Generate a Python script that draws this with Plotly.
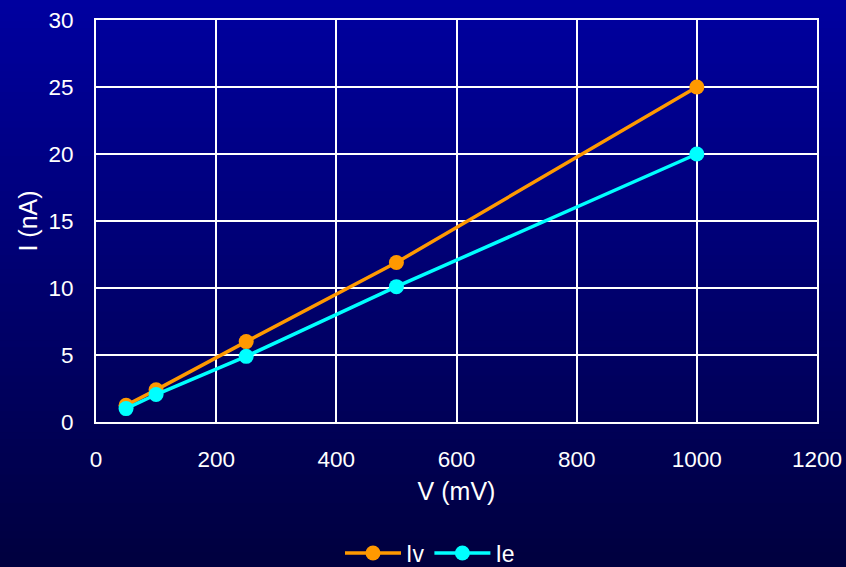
import plotly.graph_objects as go

voltage_mv = [50, 100, 250, 500, 1000]
iv_na = [1.25, 2.4, 6.0, 11.9, 25.0]
ie_na = [1.0, 2.05, 4.9, 10.1, 20.0]
series_names = ["Iv", "Ie"]
x_title = "V (mV)"
y_title = "I (nA)"

fig = go.Figure()
fig.add_trace(go.Scatter(x=voltage_mv, y=iv_na, name=series_names[0], mode="lines+markers",
                         line=dict(color="#FF9900", width=3.5),
                         marker=dict(color="#FF9900", size=15)))
fig.add_trace(go.Scatter(x=voltage_mv, y=ie_na, name=series_names[1], mode="lines+markers",
                         line=dict(color="#00FFFF", width=3.5),
                         marker=dict(color="#00FFFF", size=15)))

# vertical gradient background (top blue -> bottom navy)
W, H = 846, 567
ml, mr, mt, mb = 96, 29, 20, 145
ph = H - mt - mb
n = 80
top = (0, 0, 160)
bot = (0, 0, 62)
shapes = []
for i in range(n):
    t0 = i / n
    t1 = (i + 1) / n
    tc = (i + 0.5) / n
    c = tuple(round(top[k] + (bot[k] - top[k]) * tc) for k in range(3))
    py0 = t0 * H
    py1 = t1 * H + 1
    y0 = (H - mb - py0) / ph
    y1 = (H - mb - py1) / ph
    shapes.append(dict(type="rect", xref="paper", yref="paper",
                       x0=-ml / (W - ml - mr) - 0.01, x1=1 + mr / (W - ml - mr) + 0.01,
                       y0=y1, y1=y0, fillcolor="rgb(%d,%d,%d)" % c,
                       line=dict(width=0), layer="below"))

font = dict(family="Liberation Sans, Arial, sans-serif", color="white", size=22)
fig.update_layout(
    width=W, height=H,
    margin=dict(l=ml, r=mr, t=mt, b=mb, autoexpand=False),
    paper_bgcolor="rgb(0,0,62)",
    plot_bgcolor="rgba(0,0,0,0)",
    shapes=shapes,
    font=font,
    showlegend=True,
    legend=dict(orientation="h", x=0.5 + 7 / W, xref="container", xanchor="center",
                y=1 - 553 / H, yref="container", yanchor="middle",
                font=dict(size=23, color="white"), bgcolor="rgba(0,0,0,0)",
                itemwidth=56, tracegroupgap=0),
    xaxis=dict(range=[0, 1200], dtick=200, showgrid=True, gridcolor="white", gridwidth=2,
               showline=True, linecolor="white", linewidth=2, mirror=True, zeroline=False,
               ticks="outside", ticklen=16, tickcolor="rgba(0,0,0,0)", automargin=False,
               title=dict(text=x_title, font=dict(size=25), standoff=11),
               tickfont=dict(size=22.5)),
    yaxis=dict(range=[0, 30], dtick=5, showgrid=True, gridcolor="white", gridwidth=2,
               showline=True, linecolor="white", linewidth=2, mirror=True, zeroline=False,
               ticks="outside", ticklen=16, tickcolor="rgba(0,0,0,0)", automargin=False,
               title=dict(text=y_title, font=dict(size=25), standoff=4),
               tickfont=dict(size=22.5)),
)
fig.write_html("out.html", config={"displayModeBar": False},
               post_script="document.body.style.margin='0';document.body.style.background='rgb(0,0,62)';")
